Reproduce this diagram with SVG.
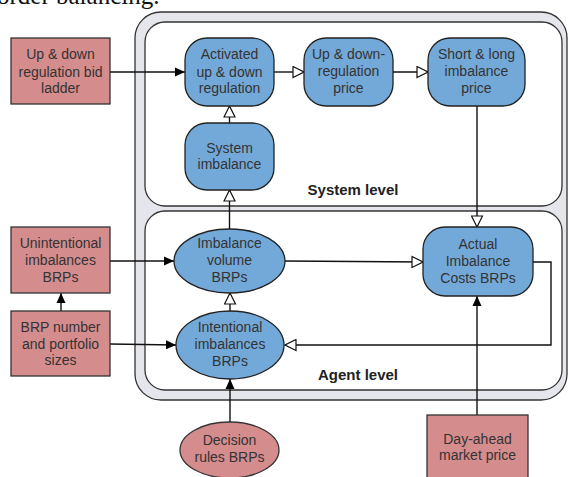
<svg xmlns="http://www.w3.org/2000/svg" width="568" height="477" viewBox="0 0 568 477">
<style>
.t{font-family:"Liberation Sans",Arial,sans-serif;font-size:14px;fill:#333;text-anchor:middle}
.lvl{font-family:"Liberation Sans",Arial,sans-serif;font-size:15px;font-weight:bold;fill:#222;text-anchor:middle}
.red{fill:#d58c8d;stroke:#333;stroke-width:1.3}
.blue{fill:#73a9d9;stroke:#222;stroke-width:1.3}
.c{fill:none;stroke:#111;stroke-width:1.4}
.f{marker-end:url(#fa)}
.h{marker-end:url(#ha)}
</style>
<defs>
<marker id="fa" viewBox="0 0 10 10" refX="10" refY="5" markerWidth="10" markerHeight="10" markerUnits="userSpaceOnUse" orient="auto">
<path d="M0,0.5 L10,5 L0,9.5 Z" fill="#000"/>
</marker>
<marker id="ha" viewBox="0 0 13 13" refX="12" refY="6.5" markerWidth="13" markerHeight="13" markerUnits="userSpaceOnUse" orient="auto">
<path d="M1,1 L12,6.5 L1,12 Z" fill="#fff" stroke="#111" stroke-width="1.2"/>
</marker>
</defs>
<text x="-3" y="4" font-family="'Liberation Serif',serif" font-size="25" fill="#111">order balancing.</text>

<g id="frame">
<rect x="135" y="12" width="432" height="388" rx="26" fill="#e5e6eb" stroke="#333" stroke-width="1.3"/>
<rect x="145" y="22" width="417" height="184" rx="20" fill="#fff" stroke="#333" stroke-width="1.3"/>
<rect x="145" y="211" width="417" height="179" rx="20" fill="#fff" stroke="#333" stroke-width="1.3"/>
<text class="lvl" x="353" y="195">System level</text>
<text class="lvl" x="358" y="380">Agent level</text>
</g>

<g id="connectors">
<path class="c f" d="M110,72 H185"/>
<path class="c h" d="M274,72 H304"/>
<path class="c h" d="M393,72 H428"/>
<path class="c h" d="M229.5,123 V106"/>
<path class="c h" d="M229.5,229 V190"/>
<path class="c h" d="M477,106 V227"/>
<path class="c h" d="M285,261 L423,262"/>
<path class="c h" d="M533,262 H551 V345 H285"/>
<path class="c h" d="M230,311 V293"/>
<path class="c f" d="M110,261 H174"/>
<path class="c f" d="M110,344 L176,345"/>
<path class="c f" d="M61,311 V293"/>
<path class="c f" d="M230,422 V379"/>
<path class="c f" d="M477,415 V296"/>
</g>

<g id="bid-ladder">
<rect class="red" x="11" y="38" width="99" height="66"/>
<text class="t" x="60.5" y="59">Up &amp; down</text>
<text class="t" x="60.5" y="77">regulation bid</text>
<text class="t" x="60.5" y="93">ladder</text>
</g>

<g id="activated">
<rect class="blue" x="185" y="38" width="89" height="68" rx="22"/>
<text class="t" x="229.5" y="59">Activated</text>
<text class="t" x="229.5" y="77">up &amp; down</text>
<text class="t" x="229.5" y="93">regulation</text>
</g>

<g id="updown-price">
<rect class="blue" x="304" y="38" width="89" height="68" rx="22"/>
<text class="t" x="348.5" y="59">Up &amp; down-</text>
<text class="t" x="348.5" y="76">regulation</text>
<text class="t" x="348.5" y="93">price</text>
</g>

<g id="short-long">
<rect class="blue" x="428" y="38" width="97" height="68" rx="22"/>
<text class="t" x="476.5" y="59">Short &amp; long</text>
<text class="t" x="476.5" y="76">imbalance</text>
<text class="t" x="476.5" y="93">price</text>
</g>

<g id="system-imbalance">
<rect class="blue" x="185" y="123" width="89" height="67" rx="22"/>
<text class="t" x="229.5" y="153">System</text>
<text class="t" x="229.5" y="169">imbalance</text>
</g>

<g id="imbalance-volume">
<ellipse class="blue" cx="229.5" cy="261" rx="55.5" ry="32"/>
<text class="t" x="229.5" y="248">Imbalance</text>
<text class="t" x="229.5" y="265">volume</text>
<text class="t" x="229.5" y="282">BRPs</text>
</g>

<g id="intentional">
<ellipse class="blue" cx="230" cy="345" rx="54" ry="34"/>
<text class="t" x="230" y="332">Intentional</text>
<text class="t" x="230" y="349">imbalances</text>
<text class="t" x="230" y="366">BRPs</text>
</g>

<g id="actual-costs">
<rect class="blue" x="423" y="227" width="110" height="69" rx="22"/>
<text class="t" x="478" y="249">Actual</text>
<text class="t" x="478" y="266">Imbalance</text>
<text class="t" x="478" y="283">Costs BRPs</text>
</g>

<g id="unintentional">
<rect class="red" x="11" y="227" width="99" height="66"/>
<text class="t" x="60.5" y="248">Unintentional</text>
<text class="t" x="60.5" y="265">imbalances</text>
<text class="t" x="60.5" y="282">BRPs</text>
</g>

<g id="brp-number">
<rect class="red" x="11" y="311" width="99" height="65"/>
<text class="t" x="60.5" y="332">BRP number</text>
<text class="t" x="60.5" y="349">and portfolio</text>
<text class="t" x="60.5" y="365">sizes</text>
</g>

<g id="decision-rules">
<ellipse class="red" cx="229.5" cy="450" rx="49.5" ry="28"/>
<text class="t" x="229.5" y="445">Decision</text>
<text class="t" x="229.5" y="462">rules BRPs</text>
</g>

<g id="day-ahead">
<rect class="red" x="427" y="415" width="101" height="75"/>
<text class="t" x="477.5" y="444">Day-ahead</text>
<text class="t" x="477.5" y="460">market price</text>
</g>
</svg>
